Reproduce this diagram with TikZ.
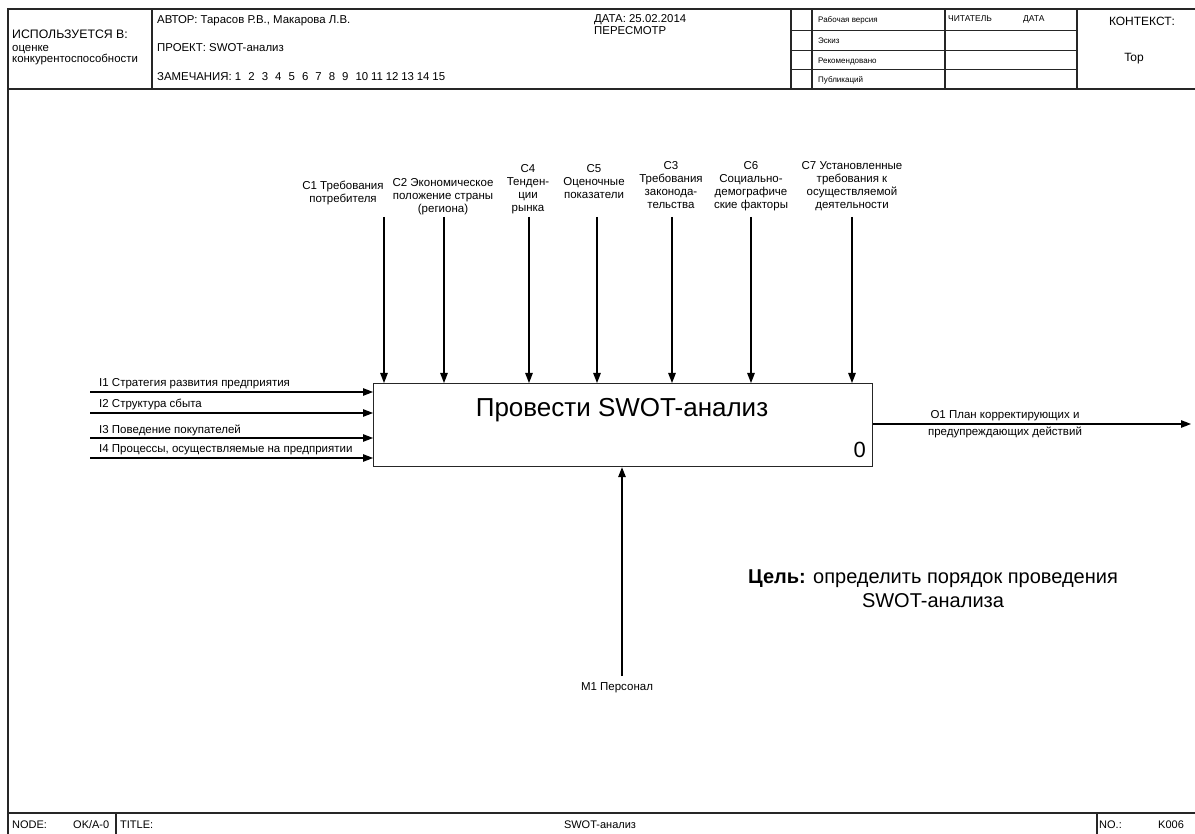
\documentclass[tikz,border=0pt]{standalone}
\usepackage{fontspec}
\setmainfont{Liberation Sans}
\usetikzlibrary{arrows.meta}
\begin{document}
\begin{tikzpicture}[x=1pt,y=-1pt,
  frame/.style={line width=1.4pt, draw=black!85},
  thinl/.style={line width=1pt, draw=black!85},
  arr/.style={line width=1.3pt, draw=black, -{Triangle[length=10pt,width=7.5pt]}},
  lbl/.style={font=\fontsize{11.5}{13}\selectfont, align=center, inner sep=0pt, anchor=north},
  inl/.style={font=\fontsize{11.5}{13}\selectfont, inner sep=0pt, anchor=base west},
  hdr/.style={font=\fontsize{11.4}{13}\selectfont, inner sep=0pt, anchor=base west},
  sm/.style={font=\fontsize{8}{10}\selectfont, inner sep=0pt, anchor=base west},
  bot/.style={font=\fontsize{11}{13}\selectfont, inner sep=0pt, anchor=base west},
  procbox/.style={draw=black!85, line width=1.2pt, fill=white, minimum width=499pt, minimum height=83pt, inner sep=0pt}
]
\useasboundingbox (0,0) rectangle (1195,834);
\fill[white] (0,0) rectangle (1195,834);

% ---- frame ----
\draw[frame] (8,834) -- (8,9) -- (1195,9);
\draw[frame] (8,89) -- (1195,89);
\draw[frame] (8,813) -- (1195,813);
\draw[frame] (152,9) -- (152,89);
\draw[frame] (791,9) -- (791,89);
\draw[frame] (812,9) -- (812,89);
\draw[frame] (945,9) -- (945,89);
\draw[frame] (1077,9) -- (1077,89);
\draw[thinl] (791,31) -- (1077,31);
\draw[thinl] (791,51) -- (1077,51);
\draw[thinl] (791,70) -- (1077,70);
\draw[frame] (116,813) -- (116,834);
\draw[frame] (1097,813) -- (1097,834);

% ---- header texts ----
\node[font=\fontsize{12.3}{14}\selectfont, inner sep=0pt, anchor=base west] (usedin) at (12,39) {ИСПОЛЬЗУЕТСЯ В:};
\node[hdr] (usedin2) at (12,51.5) {оценке};
\node[hdr] (usedin3) at (12,63) {конкурентоспособности};
\node[hdr] (author) at (157,24) {АВТОР: Тарасов Р.В., Макарова Л.В.};
\node[hdr] (project) at (157,52) {ПРОЕКТ: SWOT-анализ};
\node[hdr] (notes) at (157,81) {ЗАМЕЧАНИЯ: 1\hspace{0.62em}2\hspace{0.62em}3\hspace{0.62em}4\hspace{0.62em}5\hspace{0.62em}6\hspace{0.62em}7\hspace{0.62em}8\hspace{0.62em}9\hspace{0.62em}10\hspace{0.25em}11\hspace{0.25em}12\hspace{0.25em}13\hspace{0.25em}14\hspace{0.25em}15};
\node[hdr] (date) at (594,23) {ДАТА: 25.02.2014};
\node[hdr] (revision) at (594,35) {ПЕРЕСМОТР};
\node[sm] (working) at (818,23) {Рабочая версия};
\node[sm] (draft) at (818,44) {Эскиз};
\node[sm] (recommended) at (818,64) {Рекомендовано};
\node[sm] (publication) at (818,83) {Публикаций};
\node[sm, font=\fontsize{8.5}{10}\selectfont] (reader) at (948,22) {ЧИТАТЕЛЬ};
\node[sm, font=\fontsize{8.5}{10}\selectfont] (rdate) at (1023,22) {ДАТА};
\node[font=\fontsize{12}{14}\selectfont, inner sep=0pt, anchor=base] (context) at (1142,26) {КОНТЕКСТ:};
\node[font=\fontsize{12}{14}\selectfont, inner sep=0pt, anchor=base] (top) at (1134,62) {Top};

% ---- bottom bar ----
\node[bot] (nodelbl) at (12,828) {NODE:};
\node[bot] (nodeval) at (73,828) {OK/A-0};
\node[bot] (titlelbl) at (120,828) {TITLE:};
\node[font=\fontsize{11}{13}\selectfont, inner sep=0pt, anchor=base] (titleval) at (600,828) {SWOT-анализ};
\node[bot] (nolbl) at (1099,828) {NO.:};
\node[bot] (noval) at (1158,828) {K006};

% ---- process box ----
\node[procbox, anchor=north west] (box) at (373,383) {};
\node[font=\fontsize{26}{30}\selectfont, inner sep=0pt, anchor=base] (boxtitle) at (622,417) {Провести SWOT-анализ};
\node[font=\fontsize{22}{26}\selectfont, inner sep=0pt, anchor=base east] (boxnum) at (866,457) {0};

% ---- controls ----
\coordinate (c1s) at (384,217);
\coordinate (c2s) at (444,217);
\coordinate (c4s) at (529,217);
\coordinate (c5s) at (597,217);
\coordinate (c3s) at (672,217);
\coordinate (c6s) at (751,217);
\coordinate (c7s) at (852,217);
\foreach \c in {c1s,c2s,c4s,c5s,c3s,c6s,c7s}
  \draw[arr] (\c) -- (\c |- box.north);

\node[lbl] (c1) at (343,181) {С1 Требования\\потребителя};
\node[lbl] (c2) at (443,178) {С2 Экономическое\\положение страны\\(региона)};
\node[lbl] (c4) at (528,164) {С4\\Тенден-\\ции\\рынка};
\node[lbl] (c5) at (594,164) {С5\\Оценочные\\показатели};
\node[lbl] (c3) at (671,161) {С3\\Требования\\законода-\\тельства};
\node[lbl] (c6) at (751,161) {С6\\Социально-\\демографиче\\ские факторы};
\node[lbl] (c7) at (852,161) {С7 Установленные\\требования к\\осуществляемой\\деятельности};

% ---- inputs ----
\coordinate (i1s) at (90,392);
\coordinate (i2s) at (90,413);
\coordinate (i3s) at (90,438);
\coordinate (i4s) at (90,458);
\foreach \i in {i1s,i2s,i3s,i4s}
  \draw[arr] (\i) -- (\i -| box.west);
\node[inl] (i1) at (99,387) {I1 Стратегия развития предприятия};
\node[inl] (i2) at (99,408) {I2 Структура сбыта};
\node[inl] (i3) at (99,433) {I3 Поведение покупателей};
\node[inl] (i4) at (99,453) {I4 Процессы, осуществляемые на предприятии};

% ---- output ----
\coordinate (o1e) at (1191,424);
\draw[arr] (box.east |- o1e) -- (o1e);
\node[font=\fontsize{11.5}{17}\selectfont, align=center, inner sep=0pt] (o1) at (1005,424.5) {О1 План корректирующих и\\предупреждающих действий};

% ---- mechanism ----
\coordinate (m1s) at (622,676);
\draw[arr] (m1s) -- (m1s |- box.south);
\node[lbl] (m1) at (617,682) {М1 Персонал};

% ---- goal ----
\node[font=\fontsize{20}{24}\selectfont, align=center, inner sep=0pt, anchor=north] (goal) at (933,569.5) {\textbf{Цель:} определить порядок проведения\\SWOT-анализа};

\end{tikzpicture}
\end{document}
